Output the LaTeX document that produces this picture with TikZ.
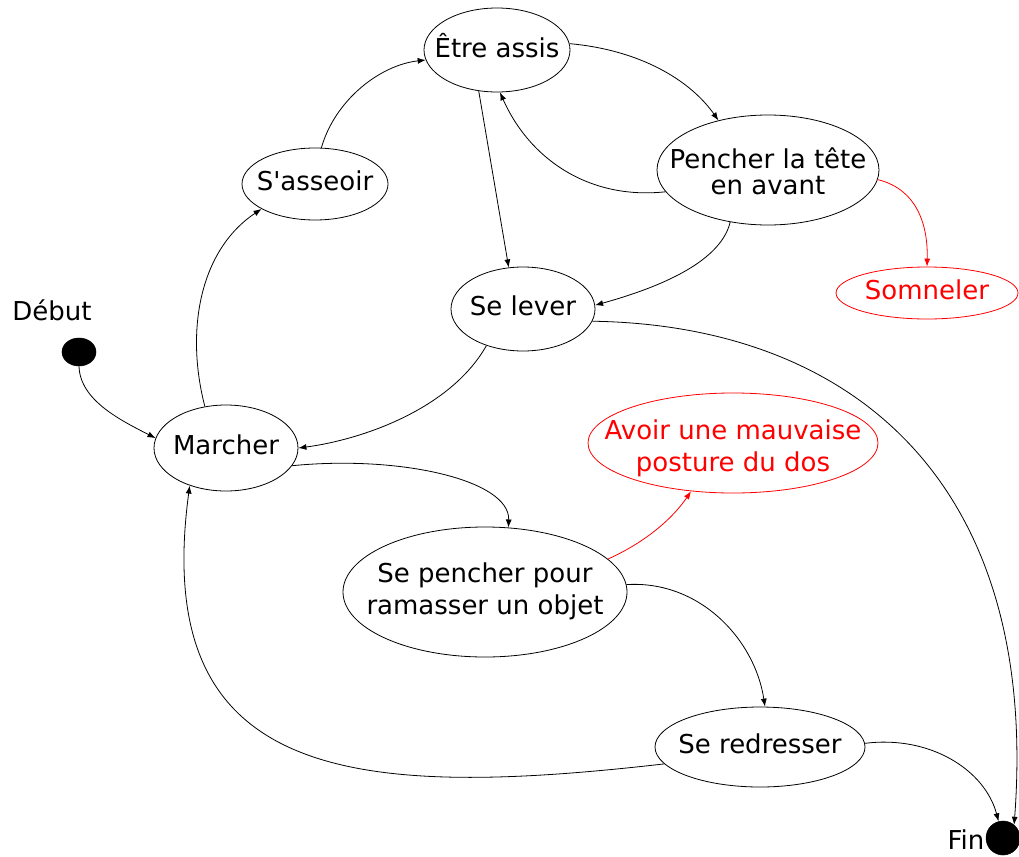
\documentclass[tikz,border=0pt]{standalone}
\usepackage{fontspec}
\setmainfont{DejaVu Sans}
\usetikzlibrary{shapes.geometric, arrows.meta}
\newcommand\lbl[2][0pt]{\makebox[0pt]{\raisebox{#1}[\height][\depth]{\begin{tabular}{@{}c@{}}#2\end{tabular}}}}
\tikzset{
  etat/.style={draw, ellipse, inner sep=0pt, line width=0.6pt,
    font=\fontsize{19.5}{24}\selectfont},
  alerte/.style={etat, draw=red, text=red},
  point/.style={draw, fill=black, ellipse, inner sep=0pt},
  fleche/.style={line width=0.6pt, -{Latex[length=6pt,width=4.5pt]}},
  rouge/.style={fleche, red}
}

\begin{document}
\begin{tikzpicture}[x=0.75pt, y=-0.75pt]
        \useasboundingbox (0,0) rectangle (1019,856);

        % etats
        \node[etat, minimum width=109.5pt, minimum height=63pt] (etre) at (497,50) {\lbl{Être assis}};
        \node[etat, minimum width=166.5pt, minimum height=82.5pt,
              font=\fontsize{19.5}{19}\selectfont] (pencher) at (768,170) {\lbl[-3.75pt]{Pencher la tête\\en avant}};
        \node[etat, minimum width=109.5pt, minimum height=54pt] (asseoir) at (315,184) {\lbl{S\textquotesingle asseoir}};
        \node[etat, minimum width=108pt, minimum height=63pt] (lever) at (523,309) {\lbl{Se lever}};
        \node[alerte, minimum width=136.5pt, minimum height=39pt] (somneler) at (927,293) {\lbl{Somneler}};
        \node[etat, minimum width=108pt, minimum height=64.5pt] (marcher) at (226,448) {\lbl{Marcher}};
        \node[alerte, minimum width=217.5pt, minimum height=75pt] (avoir) at (733,443) {\lbl[-4.5pt]{Avoir une mauvaise\\posture du dos}};
        \node[etat, minimum width=213pt, minimum height=97.5pt] (ramasser) at (485,592) {\lbl{Se pencher pour\\ramasser un objet}};
        \node[etat, minimum width=157.5pt, minimum height=60pt] (redresser) at (760,747) {\lbl{Se redresser}};

        % debut et fin
        \node[point, minimum width=25.5pt, minimum height=21pt] (debut) at (79,352) {};
        \node[font=\fontsize{19.5}{24}\selectfont] (debutlbl) at (52,310) {Début};
        \node[point, minimum width=25.5pt, minimum height=25.5pt] (fin) at (1003,838) {};
        \node[font=\fontsize{19.5}{24}\selectfont] (finlbl) at (966,840) {Fin};

        % transitions
        \draw[fleche] (debut.south) .. controls (80,400) and (120,420) .. (marcher.172);
        \draw[fleche] (marcher.117) .. controls (185,330) and (200,250) .. (asseoir.205);
        \draw[fleche] (asseoir.80) .. controls (335,100) and (380,65) .. (etre.188);
        \draw[fleche] (etre.5) .. controls (640,50) and (690,80) .. (pencher.135);
        \draw[fleche] (etre.246) -- (lever.109);
        \draw[fleche] (pencher.192) .. controls (590,200) and (530,160) .. (etre.274);
        \draw[fleche] (pencher.234) .. controls (720,265) and (650,290) .. (lever.3);
        \draw[rouge] (pencher.355) .. controls (920,190) and (928,230) .. (somneler.north);
        \draw[fleche] (lever.225) .. controls (450,410) and (360,440) .. (marcher.0);
        \draw[fleche] (lever.350) .. controls (850,325) and (1040,480) .. (fin.50);
        \draw[fleche] (marcher.345) .. controls (400,455) and (510,480) .. (ramasser.70);
        \draw[rouge] (ramasser.15) .. controls (650,540) and (675,515) .. (avoir.229);
        \draw[fleche] (ramasser.3) .. controls (700,580) and (755,640) .. (redresser.83);
        \draw[fleche] (redresser.190) .. controls (350,800) and (150,780) .. (marcher.226);
        \draw[fleche] (redresser.2) .. controls (930,735) and (985,770) .. (fin.105);
    \end{tikzpicture}
\end{document}
